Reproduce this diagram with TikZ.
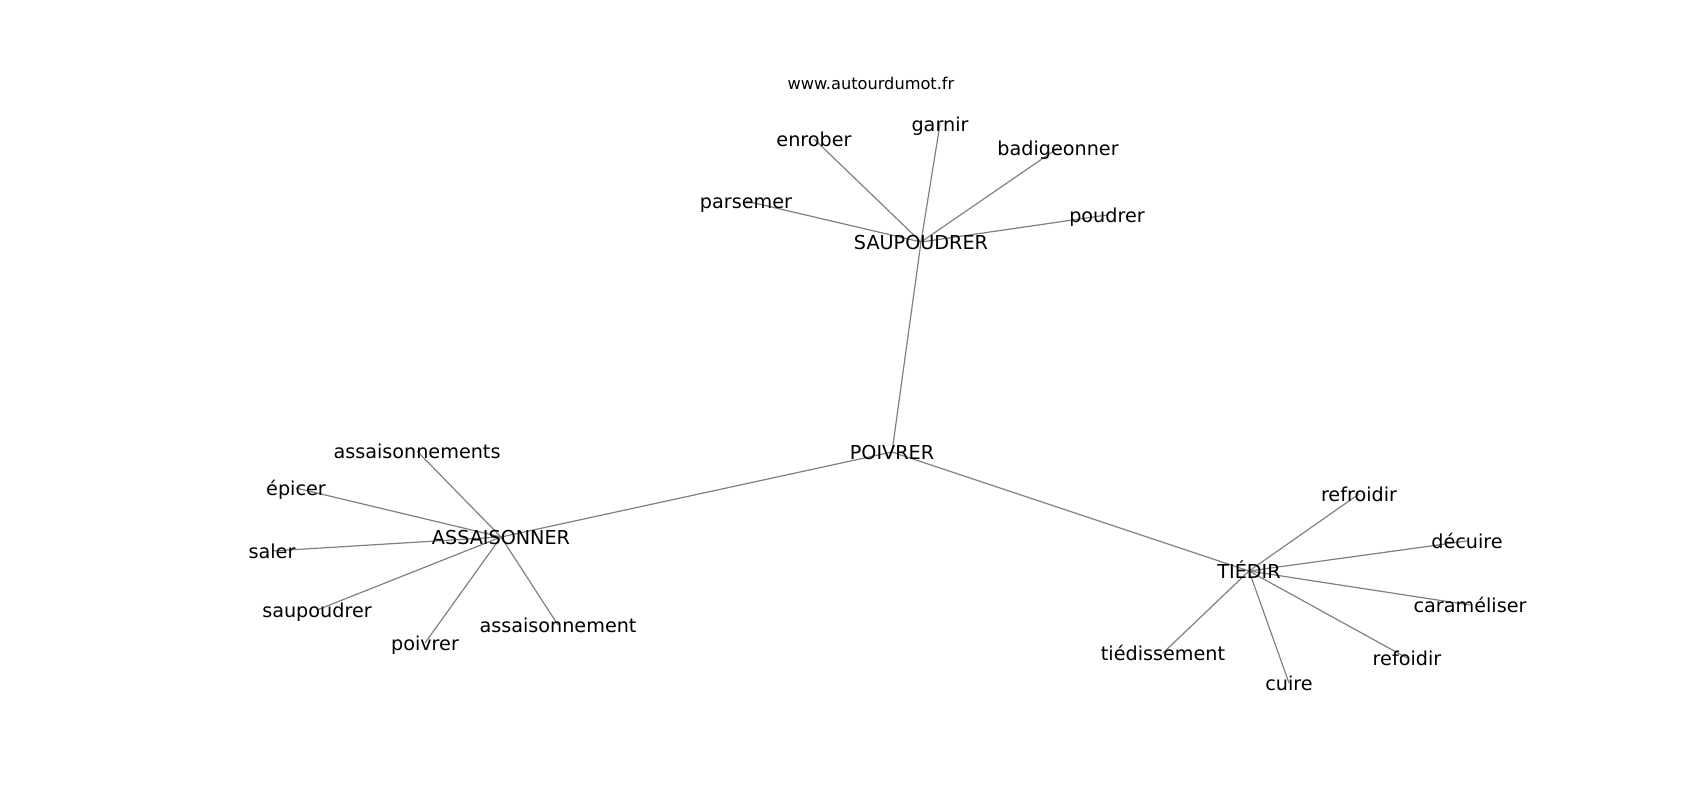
\documentclass[tikz,border=0pt]{standalone}
\usepackage{fontspec}
\setmainfont{DejaVu Sans}
\usetikzlibrary{backgrounds}
\begin{document}
\begin{tikzpicture}[x=1pt,y=-1pt,
  lbl/.style={font=\fontsize{19.2}{23}\selectfont, inner sep=0pt, text height=18.4pt, text depth=4pt, anchor=center},
  ttl/.style={font=\fontsize{16.2}{19}\selectfont, inner sep=0pt, text height=14pt, text depth=2pt},
  edge/.style={draw=gray, line width=1.2pt}]
\useasboundingbox (0,0) rectangle (1700,800);
\node[ttl] (title) at (871,83) {www.autourdumot.fr};
% hubs
\node[lbl] (poivrerC) at (892,452) {POIVRER};
\node[lbl] (saup) at (921,242) {SAUPOUDRER};
\node[lbl] (assais) at (501,537) {ASSAISONNER};
\node[lbl] (tiedir) at (1249,571) {TIÉDIR};
% saupoudrer group
\node[lbl] (enrober) at (814,139) {enrober};
\node[lbl] (garnir) at (940,124) {garnir};
\node[lbl] (badig) at (1058,148) {badigeonner};
\node[lbl] (parsemer) at (746,201) {parsemer};
\node[lbl] (poudrer) at (1107,215) {poudrer};
% assaisonner group
\node[lbl] (assmts) at (417,451) {assaisonnements};
\node[lbl] (epicer) at (296,488) {épicer};
\node[lbl] (saler) at (272,551) {saler};
\node[lbl] (saupl) at (317,610) {saupoudrer};
\node[lbl] (poivrerl) at (425,643) {poivrer};
\node[lbl] (assmt) at (558,625) {assaisonnement};
% tiedir group
\node[lbl] (refroidir) at (1359,494) {refroidir};
\node[lbl] (decuire) at (1467,541) {décuire};
\node[lbl] (caram) at (1470,605) {caraméliser};
\node[lbl] (refoidir) at (1407,658) {refoidir};
\node[lbl] (cuire) at (1289,683) {cuire};
\node[lbl] (tiediss) at (1163,653) {tiédissement};
\begin{pgfonlayer}{background}
\draw[edge] (poivrerC.center) -- (saup.center);
\draw[edge] (poivrerC.center) -- (assais.center);
\draw[edge] (poivrerC.center) -- (tiedir.center);
\foreach \n in {enrober,garnir,badig,parsemer,poudrer}
  \draw[edge] (saup.center) -- (\n.center);
\foreach \n in {assmts,epicer,saler,saupl,poivrerl,assmt}
  \draw[edge] (assais.center) -- (\n.center);
\foreach \n in {refroidir,decuire,caram,refoidir,cuire,tiediss}
  \draw[edge] (tiedir.center) -- (\n.center);
\end{pgfonlayer}
\end{tikzpicture}
\end{document}
